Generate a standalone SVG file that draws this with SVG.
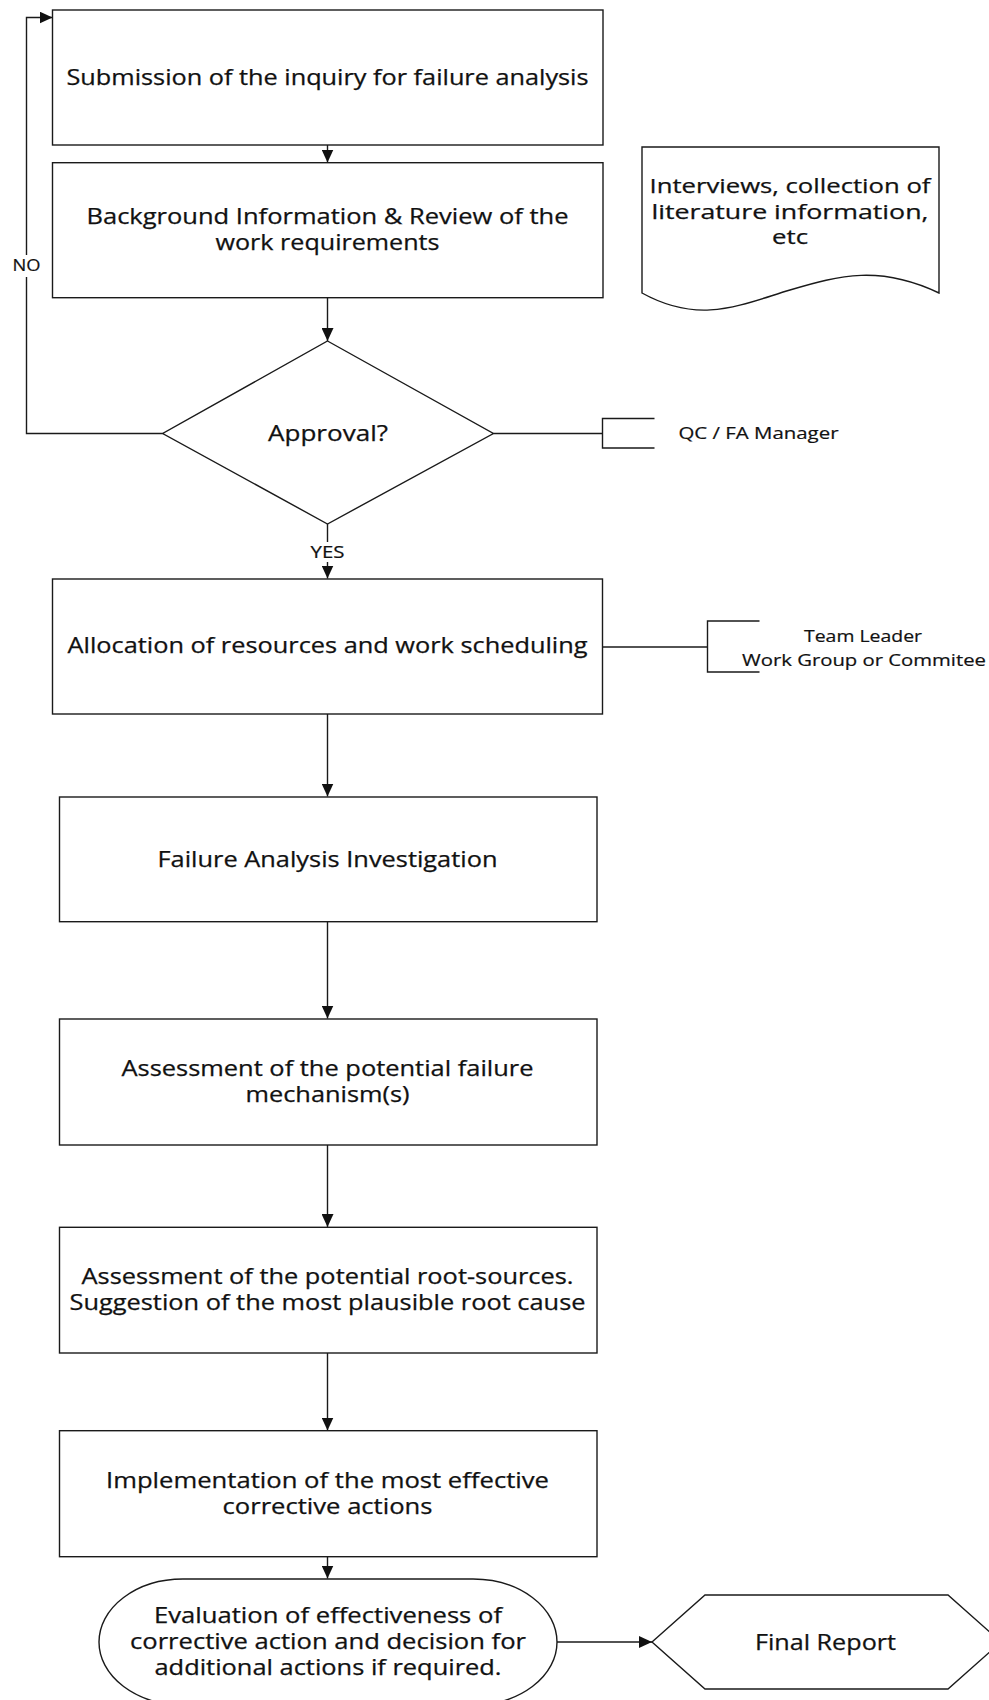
<svg xmlns="http://www.w3.org/2000/svg" width="989" height="1700" viewBox="0 0 989 1700">
<style>
.s{fill:#fff;stroke:#1a1a1a;stroke-width:1.4}
.c{fill:none;stroke:#1a1a1a;stroke-width:1.4}
.t{font-family:"Open Sans","DejaVu Sans",sans-serif;font-size:21px;fill:#111;text-anchor:middle;stroke:#111;stroke-width:0.25}
.d{font-size:19.5px}
.m{font-size:16.5px;stroke-width:0.2}
.l{font-size:16px;stroke-width:0.2}
</style>
<defs>
<marker id="ah" markerUnits="userSpaceOnUse" markerWidth="14" markerHeight="12" refX="13" refY="6" orient="auto">
<path d="M0,0 L13,6 L0,12 Z" fill="#111"/>
</marker>
</defs>
<rect width="989" height="1700" fill="#fff"/>
<g id="connectors">
<path class="c" d="M162.7,433.5 H26.5 V277 M26.5,255 V17.5 H52.5" marker-end="url(#ah)"/>
<path class="c" d="M327.5,145 V162.5" marker-end="url(#ah)"/>
<path class="c" d="M327.5,297.7 V341" marker-end="url(#ah)"/>
<path class="c" d="M327.5,524 V542 M327.5,562 V578.5" marker-end="url(#ah)"/>
<path class="c" d="M327.5,714 V796.5" marker-end="url(#ah)"/>
<path class="c" d="M327.5,921.7 V1018.5" marker-end="url(#ah)"/>
<path class="c" d="M327.5,1145 V1227" marker-end="url(#ah)"/>
<path class="c" d="M327.5,1353 V1430.5" marker-end="url(#ah)"/>
<path class="c" d="M327.5,1556.7 V1578.5" marker-end="url(#ah)"/>
<path class="c" d="M557,1642 H652" marker-end="url(#ah)"/>
<path class="c" d="M493.4,433.5 H602.5"/>
<path class="c" d="M602.5,647 H707.5"/>
<text class="t l" x="26.5" y="270.5" textLength="28" lengthAdjust="spacingAndGlyphs">NO</text>
<text class="t l" x="327.5" y="557.5" textLength="34" lengthAdjust="spacingAndGlyphs">YES</text>
</g>
<g id="n1">
<rect class="s" x="52.5" y="10" width="550.5" height="135"/>
<text class="t" x="327.5" y="84.5" textLength="522" lengthAdjust="spacingAndGlyphs">Submission of the inquiry for failure analysis</text>
</g>
<g id="n2">
<rect class="s" x="52.5" y="162.7" width="550.5" height="135"/>
<text class="t" x="327.5" y="223.5" textLength="482" lengthAdjust="spacingAndGlyphs">Background Information &amp; Review of the</text>
<text class="t" x="327.5" y="249.5" textLength="224" lengthAdjust="spacingAndGlyphs">work requirements</text>
</g>
<g id="doc">
<path class="s" d="M642,293 V147 H939 V293 C880,265 840,275 790,290 C740,305 700,325 642,293 Z"/>
<text class="t d" x="790" y="192.5" textLength="281" lengthAdjust="spacingAndGlyphs">Interviews, collection of</text>
<text class="t d" x="790" y="218.5" textLength="277" lengthAdjust="spacingAndGlyphs">literature information,</text>
<text class="t d" x="790" y="243.5" textLength="36" lengthAdjust="spacingAndGlyphs">etc</text>
</g>
<g id="approval">
<path class="s" d="M327.5,341 L493.4,433.5 L327.5,524 L162.7,433.5 Z"/>
<text class="t" x="328" y="440.5" textLength="120" lengthAdjust="spacingAndGlyphs">Approval?</text>
</g>
<g id="qc">
<path class="c" d="M654.5,418.5 H602.5 V448 H654.5"/>
<text class="t m" x="758.5" y="439" textLength="160" lengthAdjust="spacingAndGlyphs">QC / FA Manager</text>
</g>
<g id="n3">
<rect class="s" x="52.5" y="579" width="550" height="135"/>
<text class="t" x="327.5" y="652.5" textLength="520" lengthAdjust="spacingAndGlyphs">Allocation of resources and work scheduling</text>
</g>
<g id="team">
<path class="c" d="M759.5,621 H707.5 V672 H759.5"/>
<text class="t m" x="863" y="642" textLength="118" lengthAdjust="spacingAndGlyphs">Team Leader</text>
<text class="t m" x="864" y="665.5" textLength="244" lengthAdjust="spacingAndGlyphs">Work Group or Commitee</text>
</g>
<g id="n4">
<rect class="s" x="59.5" y="797" width="537.5" height="124.7"/>
<text class="t" x="327.5" y="867" textLength="340" lengthAdjust="spacingAndGlyphs">Failure Analysis Investigation</text>
</g>
<g id="n5">
<rect class="s" x="59.5" y="1019" width="537.5" height="126"/>
<text class="t" x="327.5" y="1076" textLength="412" lengthAdjust="spacingAndGlyphs">Assessment of the potential failure</text>
<text class="t" x="327.5" y="1101.5" textLength="164" lengthAdjust="spacingAndGlyphs">mechanism(s)</text>
</g>
<g id="n6">
<rect class="s" x="59.5" y="1227.3" width="537.5" height="125.7"/>
<text class="t" x="327.5" y="1284" textLength="492" lengthAdjust="spacingAndGlyphs">Assessment of the potential root-sources.</text>
<text class="t" x="327.5" y="1310" textLength="516" lengthAdjust="spacingAndGlyphs">Suggestion of the most plausible root cause</text>
</g>
<g id="n7">
<rect class="s" x="59.5" y="1430.7" width="537.5" height="126"/>
<text class="t" x="327.5" y="1488" textLength="443" lengthAdjust="spacingAndGlyphs">Implementation of the most effective</text>
<text class="t" x="327.5" y="1513.5" textLength="210" lengthAdjust="spacingAndGlyphs">corrective actions</text>
</g>
<g id="eval">
<rect class="s" x="99" y="1579" width="458" height="126" rx="84" ry="63"/>
<text class="t" x="328" y="1623" textLength="348" lengthAdjust="spacingAndGlyphs">Evaluation of effectiveness of</text>
<text class="t" x="328" y="1649" textLength="396" lengthAdjust="spacingAndGlyphs">corrective action and decision for</text>
<text class="t" x="328" y="1675" textLength="347" lengthAdjust="spacingAndGlyphs">additional actions if required.</text>
</g>
<g id="final">
<path class="s" d="M652,1642 L705,1595 H948 L1001,1642 L948,1689 H705 Z"/>
<text class="t" x="825.5" y="1649.5" textLength="141" lengthAdjust="spacingAndGlyphs">Final Report</text>
</g>
</svg>
